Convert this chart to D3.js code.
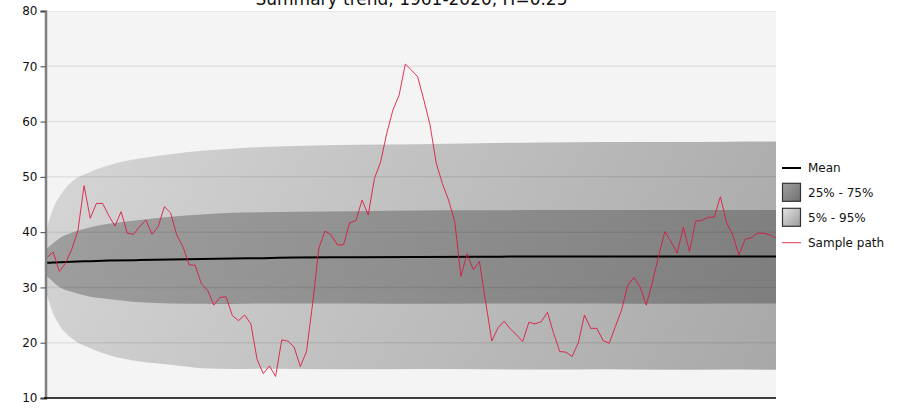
<!DOCTYPE html>
<html><head><meta charset="utf-8">
<script src="https://cdn.jsdelivr.net/npm/d3@7"></script>
<style>body{margin:0;background:#fff}svg{display:block}text{font-family:"DejaVu Sans",Verdana,sans-serif}</style>
</head><body><svg id="c" width="904" height="411"></svg>
<script>
const title = "Summary trend, 1961-2020, H=0.25";
const yTicks = [10, 20, 30, 40, 50, 60, 70, 80];
const legendLabels = ["Mean", "25% - 75%", "5% - 95%", "Sample path"];

// sample path, one value per step (119 steps)
const samplePath = [
 35.4,36.4,32.9,34.4,36.9,40.2,48.4,42.5,45.2,45.2,
 43.0,41.1,43.7,39.8,39.6,41.0,42.2,39.6,41.0,44.6,
 43.5,39.5,37.4,34.1,34.0,30.6,29.5,26.8,28.2,28.3,
 24.9,24.0,25.0,23.4,17.0,14.4,15.8,13.9,20.5,20.3,
 19.2,15.7,18.4,27.1,37.1,40.2,39.5,37.7,37.7,41.7,
 42.1,45.8,43.1,49.7,52.7,57.9,62.1,64.8,70.4,69.3,
 68.1,63.9,59.4,52.5,48.8,45.8,41.9,32.0,36.1,33.2,
 34.7,27.4,20.3,22.7,23.9,22.5,21.4,20.2,23.7,23.4,
 23.8,25.5,21.7,18.4,18.3,17.5,20.0,25.0,22.6,22.6,
 20.4,19.9,22.9,25.9,30.4,31.8,30.1,26.8,31.0,35.7,
 40.1,38.3,36.2,40.9,36.5,42.0,42.1,42.7,42.7,46.4,
 41.7,39.5,35.9,38.7,39.0,39.8,39.8,39.5,38.9
];

// steps at which the mean and band edges were read
const bandSteps = [0,1,2,4,7,10,15,20,25,30,35,40,50,60,70,80,90,100,110,118];
const meanVals  = [34.45,34.5,34.55,34.65,34.75,34.85,34.95,35.05,35.15,35.25,35.3,35.4,35.45,35.5,35.55,35.6,35.6,35.6,35.6,35.6];
const q95 = [40.8,44.3,46.4,49.1,50.9,52.1,53.3,54.1,54.7,55.1,55.4,55.6,55.8,55.9,56.1,56.2,56.3,56.3,56.35,56.4];
const q05 = [28.6,25.3,23.2,20.8,19.0,17.8,16.6,16.0,15.4,15.25,15.3,15.25,15.2,15.25,15.2,15.15,15.2,15.1,15.15,15.1];
const q75 = [37.1,38.0,38.9,39.9,40.9,41.5,42.2,42.8,43.2,43.5,43.6,43.7,43.8,43.9,43.95,44.0,44.0,44.0,44.0,44.0];
const q25 = [32.0,31.0,30.1,29.2,28.3,27.9,27.3,27.1,27.05,27.0,27.1,27.1,27.1,27.05,27.1,27.1,27.1,27.05,27.1,27.1];

const svg = d3.select("#c");
const L = 47, R = 776, T = 11, B = 398;
const x = d3.scaleLinear().domain([0, samplePath.length - 1]).range([L, R]);
const y = d3.scaleLinear().domain([10, 80]).range([B, T]);

const defs = svg.append("defs");
function grad(id, c0, c1, x1, y1, x2, y2, units) {
  const g = defs.append("linearGradient").attr("id", id)
    .attr("x1", x1).attr("y1", y1).attr("x2", x2).attr("y2", y2);
  if (units) g.attr("gradientUnits", units);
  g.append("stop").attr("offset", "0%").attr("stop-color", c0);
  g.append("stop").attr("offset", "100%").attr("stop-color", c1);
}
grad("gOuter", "#dadada", "#a7a7a7", L, T, R, B, "userSpaceOnUse");
grad("gInner", "#a3a3a3", "#7c7c7c", L, T, R, B, "userSpaceOnUse");
grad("lgInner", "#a0a0a0", "#707070", "0", "0", "1", "1");
grad("lgOuter", "#e4e4e4", "#9a9a9a", "0", "0", "1", "1");

svg.append("rect").attr("x", L).attr("y", T).attr("width", R - L).attr("height", B - T).attr("fill", "#f4f4f4");

const clip = defs.append("clipPath").attr("id", "plotClip");
clip.append("rect").attr("x", L).attr("y", T).attr("width", R - L).attr("height", B - T);
const plot = svg.append("g").attr("clip-path", "url(#plotClip)");

const band = (lo, hi) => d3.area().curve(d3.curveMonotoneX)
  .x((d, i) => x(bandSteps[i])).y0((d, i) => y(lo[i])).y1((d, i) => y(hi[i]));
plot.append("path").datum(bandSteps).attr("d", band(q05, q95)).attr("fill", "url(#gOuter)");
plot.append("path").datum(bandSteps).attr("d", band(q25, q75)).attr("fill", "url(#gInner)");

// gridlines
plot.selectAll("line.grid").data(yTicks).join("line").attr("class", "grid")
  .attr("x1", L).attr("x2", R).attr("y1", d => y(d)).attr("y2", d => y(d))
  .attr("stroke", "rgba(0,0,0,0.075)").attr("stroke-width", 1.5);

plot.append("path").datum(meanVals)
  .attr("d", d3.line().curve(d3.curveMonotoneX).x((d, i) => x(bandSteps[i])).y(d => y(d)))
  .attr("fill", "none").attr("stroke", "#000").attr("stroke-width", 2);

plot.append("path").datum(samplePath)
  .attr("d", d3.line().x((d, i) => x(i)).y(d => y(d)))
  .attr("fill", "none").attr("stroke", "#dc143c").attr("stroke-width", 1).attr("stroke-opacity", 0.85);

// y axis
const yAxis = svg.append("g").attr("transform", `translate(${L - 1.5},0)`)
  .call(d3.axisLeft(y).tickValues(yTicks).tickSize(5).tickPadding(3));
yAxis.select(".domain").attr("stroke", "#7f7f7f").attr("stroke-width", 2.5);
yAxis.selectAll(".tick line").attr("stroke", "#444");
yAxis.selectAll(".tick text").attr("font-size", 12).attr("fill", "#111").attr("font-family", "DejaVu Sans");

// x axis line
svg.append("line").attr("x1", L - 3).attr("x2", R).attr("y1", B).attr("y2", B)
  .attr("stroke", "#000").attr("stroke-width", 1.5);

// title
svg.append("text").attr("x", (L + R) / 2).attr("y", 5).attr("text-anchor", "middle")
  .attr("font-size", 17).attr("fill", "#111").text(title);

// legend
const lg = svg.append("g").attr("transform", "translate(782,0)");
const rows = [168, 192.8, 217.8, 242.7];
lg.append("line").attr("x1", 0).attr("x2", 19).attr("y1", rows[0]).attr("y2", rows[0]).attr("stroke", "#000").attr("stroke-width", 2);
lg.append("rect").attr("x", 0.5).attr("y", rows[1] - 9.5).attr("width", 18).attr("height", 18).attr("fill", "url(#lgInner)").attr("stroke", "#333").attr("stroke-width", 1.2);
lg.append("rect").attr("x", 0.5).attr("y", rows[2] - 9.5).attr("width", 18).attr("height", 18).attr("fill", "url(#lgOuter)").attr("stroke", "#333").attr("stroke-width", 1.2);
lg.append("line").attr("x1", 0).attr("x2", 19).attr("y1", rows[3]).attr("y2", rows[3]).attr("stroke", "#dc143c").attr("stroke-width", 1).attr("stroke-opacity", 0.85);
lg.selectAll("text").data(legendLabels).join("text")
  .attr("x", 26).attr("y", (d, i) => rows[i]).attr("dy", "0.35em")
  .attr("font-size", 12).attr("fill", "#111").text(d => d);
</script></body></html>
